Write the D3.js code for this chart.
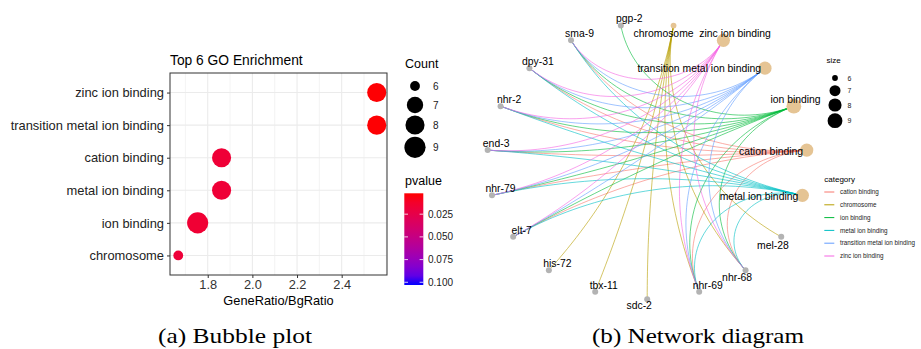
<!DOCTYPE html>
<html>
<head>
<meta charset="utf-8">
<title>GO enrichment</title>
<script src="https://cdnjs.cloudflare.com/ajax/libs/d3/7.8.5/d3.min.js"></script>
<style>
body { margin: 0; background: #fff; }
svg text { font-family: "Liberation Sans", Arial, sans-serif; }
</style>
</head>
<body>
<svg id="chart" width="921" height="349"></svg>
<script>
// ---- (a) bubble plot data ----
var goTerms = ["zinc ion binding", "transition metal ion binding", "cation binding", "metal ion binding", "ion binding", "chromosome"];
var goRatio = [2.557, 2.557, 1.862, 1.862, 1.755, 1.668];
var goCount = [8, 8, 8, 8, 9, 6];
var goPvalue = [0.0025, 0.0025, 0.017, 0.017, 0.016, 0.018];
var xLimits = [1.631, 2.603];
var xTicks = [1.8, 2.0, 2.2, 2.4];
var countBreaks = [6, 7, 8, 9];
var pvalueLimits = [0.002, 0.103];
var pvalueBreaks = [0.025, 0.050, 0.075, 0.100];

// ---- (b) network data ----
// nodes in circular layout order, starting at the bottom
var netNodes = ["sdc-2", "tbx-11", "his-72", "elt-7", "nhr-79", "end-3", "nhr-2", "dpy-31", "sma-9", "pgp-2",
  "chromosome", "zinc ion binding", "transition metal ion binding", "ion binding", "cation binding", "metal ion binding",
  "mel-28", "nhr-68", "nhr-69"];
var categories = ["cation binding", "chromosome", "ion binding", "metal ion binding", "transition metal ion binding", "zinc ion binding"];
var categoryColors = ["#F8766D", "#B79F00", "#00BA38", "#00BFC4", "#619CFF", "#F564E3"];
var cationGenes = ["sma-9", "dpy-31", "nhr-2", "end-3", "nhr-79", "elt-7", "nhr-68", "nhr-69"];
var chromosomeGenes = ["his-72", "tbx-11", "sdc-2", "mel-28", "nhr-68", "nhr-69"];
var ionGenes = ["pgp-2", "sma-9", "dpy-31", "nhr-2", "end-3", "nhr-79", "elt-7", "nhr-68", "nhr-69"];
var metalIonGenes = ["sma-9", "dpy-31", "nhr-2", "end-3", "nhr-79", "elt-7", "nhr-68", "nhr-69"];
var transitionGenes = ["sma-9", "dpy-31", "nhr-2", "end-3", "nhr-79", "elt-7", "nhr-68", "nhr-69"];
var zincGenes = ["sma-9", "dpy-31", "nhr-2", "end-3", "nhr-79", "elt-7", "nhr-68", "nhr-69"];
var categoryGenes = [cationGenes, chromosomeGenes, ionGenes, metalIonGenes, transitionGenes, zincGenes];

var svg = d3.select("#chart");

// ================= (a) bubble plot =================
var x = d3.scaleLinear().domain(xLimits).range([170, 387]);
var y = d3.scalePoint().domain(goTerms).range([73, 275]).padding(0.6);
var rBubble = d3.scaleSqrt().domain([0, d3.max(countBreaks) - d3.min(countBreaks)]).range([4.9, 10.6]);
var color = d3.scaleLinear().domain(pvalueLimits).range(["red", "blue"]).interpolate(d3.interpolateLab);

var pa = svg.append("g");
pa.append("rect").attr("x", 170).attr("y", 73).attr("width", 217).attr("height", 202).attr("fill", "#fff");

// grid: minor lines thin, majors a bit thicker
pa.selectAll(".gx").data(x.ticks(10)).enter().append("line")
  .attr("x1", function(d){ return x(d); }).attr("x2", function(d){ return x(d); })
  .attr("y1", 73).attr("y2", 275)
  .attr("stroke", "#ebebeb")
  .attr("stroke-width", function(d){ return xTicks.some(function(t){ return Math.abs(t - d) < 1e-6; }) ? 1.1 : 0.6; });
pa.selectAll(".gy").data(goTerms).enter().append("line")
  .attr("x1", 170).attr("x2", 387)
  .attr("y1", function(d){ return y(d); }).attr("y2", function(d){ return y(d); })
  .attr("stroke", "#ebebeb").attr("stroke-width", 1.1);

pa.selectAll(".dot").data(goTerms).enter().append("circle")
  .attr("cx", function(d, i){ return x(goRatio[i]); })
  .attr("cy", function(d){ return y(d); })
  .attr("r", function(d, i){ return rBubble(goCount[i] - d3.min(countBreaks)); })
  .attr("fill", function(d, i){ return color(goPvalue[i]); });

pa.append("rect").attr("x", 170).attr("y", 73).attr("width", 217).attr("height", 202)
  .attr("fill", "none").attr("stroke", "#333").attr("stroke-width", 1);

var xAxis = pa.append("g").attr("transform", "translate(0,275)")
  .call(d3.axisBottom(x).tickValues(xTicks).tickFormat(d3.format(".1f")).tickSize(3).tickPadding(2));
xAxis.select(".domain").remove();
xAxis.selectAll("line").attr("stroke", "#333");
xAxis.selectAll("text").attr("font-size", 12.8).attr("fill", "#333");

var yAxis = pa.append("g").attr("transform", "translate(170,0)")
  .call(d3.axisLeft(y).tickSize(3).tickPadding(3));
yAxis.select(".domain").remove();
yAxis.selectAll("line").attr("stroke", "#333");
yAxis.selectAll("text").attr("font-size", 12.9).attr("fill", "#222");

pa.append("text").attr("x", 170).attr("y", 64.5).attr("font-size", 13.8).attr("fill", "#000").text("Top 6 GO Enrichment");
pa.append("text").attr("x", 278.5).attr("y", 304.5).attr("text-anchor", "middle").attr("font-size", 12.8).attr("fill", "#000").text("GeneRatio/BgRatio");

// Count legend
var lc = pa.append("g");
lc.append("text").attr("x", 405).attr("y", 68).attr("font-size", 12.5).text("Count");
var countY = [86, 105, 125, 147.3];
lc.selectAll("circle").data(countBreaks).enter().append("circle")
  .attr("cx", 415).attr("cy", function(d, i){ return countY[i]; })
  .attr("r", function(d){ return rBubble(d - d3.min(countBreaks)); }).attr("fill", "#000");
lc.selectAll(".lab").data(countBreaks).enter().append("text")
  .attr("x", 433).attr("y", function(d, i){ return countY[i] + 3.5; })
  .attr("font-size", 10).attr("fill", "#1a1a1a").text(function(d){ return d; });

// pvalue colorbar
var pbar = d3.scaleLinear().domain(pvalueLimits).range([193.3, 285]);
var grad = svg.append("defs").append("linearGradient").attr("id", "pgrad")
  .attr("x1", 0).attr("x2", 0).attr("y1", 0).attr("y2", 1);
grad.selectAll("stop").data(d3.range(0, 1.0001, 0.1)).enter().append("stop")
  .attr("offset", function(d){ return d; })
  .attr("stop-color", function(d){ return color(pvalueLimits[0] + d * (pvalueLimits[1] - pvalueLimits[0])); });
pa.append("text").attr("x", 405).attr("y", 184.5).attr("font-size", 12.5).text("pvalue");
pa.append("rect").attr("x", 404.3).attr("y", 193.3).attr("width", 19).attr("height", 91.7).attr("fill", "url(#pgrad)");
pvalueBreaks.forEach(function(p){
  pa.append("line").attr("x1", 404.3).attr("x2", 408).attr("y1", pbar(p)).attr("y2", pbar(p)).attr("stroke", "#fff").attr("stroke-width", 0.8);
  pa.append("line").attr("x1", 419.6).attr("x2", 423.3).attr("y1", pbar(p)).attr("y2", pbar(p)).attr("stroke", "#fff").attr("stroke-width", 0.8);
  pa.append("text").attr("x", 428).attr("y", pbar(p) + 3.5).attr("font-size", 10).attr("fill", "#1a1a1a").text(d3.format(".3f")(p));
});

// ================= (b) network =================
var xNet = d3.scaleLinear().domain([-1, 1]).range([487.1, 807.3]);
var yNet = d3.scaleLinear().domain([-1, 1]).range([23.7, 299.3]);
var step = 2 * Math.PI / netNodes.length;
function angleOf(name) { return -netNodes.indexOf(name) * step; }
function unit(a) { return [Math.sin(a), Math.cos(a)]; }

// arc orthogonal to the layout circle, sampled in unit space
function arcPoints(a0, a1) {
  var p0 = unit(a0), p1 = unit(a1);
  var d = Math.abs(a1 - a0) % (2 * Math.PI);
  if (d > Math.PI) d = 2 * Math.PI - d;
  if (d > Math.PI - 0.02) return [p0, p1];
  var mx = p0[0] + p1[0], my = p0[1] + p1[1], ml = Math.hypot(mx, my);
  var dist = 1 / Math.cos(d / 2), r = Math.tan(d / 2);
  var ox = mx / ml * dist, oy = my / ml * dist;
  var t0 = Math.atan2(p0[1] - oy, p0[0] - ox), t1 = Math.atan2(p1[1] - oy, p1[0] - ox);
  var dt = t1 - t0;
  while (dt > Math.PI) dt -= 2 * Math.PI;
  while (dt < -Math.PI) dt += 2 * Math.PI;
  return d3.range(41).map(function(i){ return [ox + r * Math.cos(t0 + dt * i / 40), oy + r * Math.sin(t0 + dt * i / 40)]; });
}
var arcLine = d3.line().x(function(p){ return xNet(p[0]); }).y(function(p){ return yNet(p[1]); });

var edges = [];
categories.forEach(function(c, ci){
  categoryGenes[ci].forEach(function(g){ edges.push({term: c, gene: g, color: categoryColors[ci]}); });
});

var pb = svg.append("g");
pb.selectAll(".edge").data(edges).enter().append("path")
  .attr("d", function(e){ return arcLine(arcPoints(angleOf(e.gene), angleOf(e.term))); })
  .attr("fill", "none").attr("stroke", function(e){ return e.color; })
  .attr("stroke-width", 0.75).attr("stroke-opacity", 0.8);

var rNet = d3.scaleSqrt().domain([0, d3.max(countBreaks) - d3.min(countBreaks)]).range([2.9, 7.4]);
function isTerm(n) { return categories.indexOf(n) >= 0; }
function termCount(n) { return goCount[goTerms.indexOf(n)]; }

pb.selectAll(".node").data(netNodes).enter().append("circle")
  .attr("cx", function(n){ return xNet(unit(angleOf(n))[0]); })
  .attr("cy", function(n){ return yNet(unit(angleOf(n))[1]); })
  .attr("r", function(n){ return isTerm(n) ? rNet(termCount(n) - d3.min(countBreaks)) : 3; })
  .attr("fill", function(n){ return isTerm(n) ? "#E5C494" : "#B3B3B3"; });

// label nudges (label centre relative to node)
var labelShift = {
  "chromosome": [-10, 7.7], "zinc ion binding": [11.7, -6.7], "transition metal ion binding": [-65.7, 0.6],
  "ion binding": [1.7, -7], "cation binding": [-35.7, 0.7], "metal ion binding": [-43.4, 1],
  "mel-28": [-8.3, 8.3], "nhr-68": [-8.4, 7.3], "sdc-2": [-8, 6.4]
};
pb.selectAll(".nlab").data(netNodes).enter().append("text")
  .attr("x", function(n){ return xNet(unit(angleOf(n))[0]) + (labelShift[n] || [8.5, -6.8])[0]; })
  .attr("y", function(n){ return yNet(unit(angleOf(n))[1]) + (labelShift[n] || [8.5, -6.8])[1] + 3.7; })
  .attr("text-anchor", "middle").attr("font-size", 10.4).attr("fill", "#000")
  .text(function(n){ return n; });

// size legend
var ls = svg.append("g");
ls.append("text").attr("x", 826.5).attr("y", 63).attr("font-size", 8).text("size");
var sizeY = [78, 90.7, 105, 120.7];
ls.selectAll("circle").data(countBreaks).enter().append("circle")
  .attr("cx", 835).attr("cy", function(d, i){ return sizeY[i]; })
  .attr("r", function(d){ return rNet(d - d3.min(countBreaks)); }).attr("fill", "#000");
ls.selectAll(".slab").data(countBreaks).enter().append("text")
  .attr("x", 847.5).attr("y", function(d, i){ return sizeY[i] + 2.5; })
  .attr("font-size", 7).attr("fill", "#1a1a1a").text(function(d){ return d; });

// category legend
var lg = svg.append("g");
lg.append("text").attr("x", 824.3).attr("y", 182).attr("font-size", 8).text("category");
var catY = d3.scalePoint().domain(categories).range([192, 256]);
lg.selectAll("line").data(categories).enter().append("line")
  .attr("x1", 824.3).attr("x2", 834.3)
  .attr("y1", function(c){ return catY(c); }).attr("y2", function(c){ return catY(c); })
  .attr("stroke", function(c, i){ return categoryColors[i]; }).attr("stroke-width", 1);
lg.selectAll("text.clab").data(categories).enter().append("text").attr("class", "clab")
  .attr("x", 840).attr("y", function(c){ return catY(c) + 2.2; })
  .attr("font-size", 6.3).attr("fill", "#1a1a1a").text(function(c){ return c; });

// captions
svg.append("text").attr("x", 235).attr("y", 343).attr("text-anchor", "middle")
  .style("font-family", "'Liberation Serif', 'DejaVu Serif', serif").attr("font-size", 21)
  .attr("textLength", 154).attr("lengthAdjust", "spacingAndGlyphs").text("(a) Bubble plot");
svg.append("text").attr("x", 698).attr("y", 343).attr("text-anchor", "middle")
  .style("font-family", "'Liberation Serif', 'DejaVu Serif', serif").attr("font-size", 21)
  .attr("textLength", 212).attr("lengthAdjust", "spacingAndGlyphs").text("(b) Network diagram");
</script>
</body>
</html>
